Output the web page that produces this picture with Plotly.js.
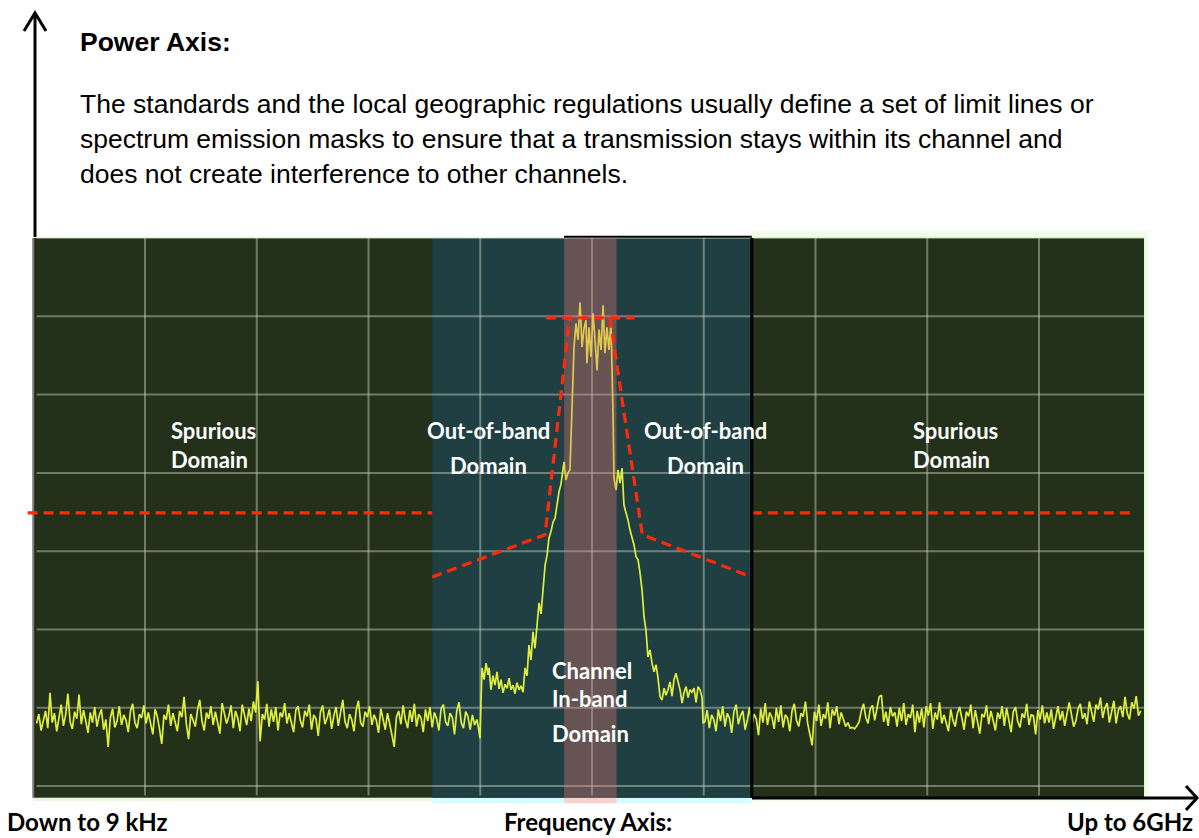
<!DOCTYPE html>
<html>
<head>
<meta charset="utf-8">
<script src="https://cdn.plot.ly/plotly-3.0.1.min.js"></script>
<style>html,body{margin:0;padding:0;background:#fff;}#chart{width:1199px;height:838px;}</style>
</head>
<body>
<div id="chart"></div>
<script>
// ---------------- DATA (frequency in screen divisions, level in dB) ----------------
const noiseStep = 0.02;
const noiseLeftStart = 0.03;
const noiseLeftDb = [
-62.0,-60.8,-62.9,-61.5,-60.4,-62.6,-58.1,-61.9,-60.7,-63.0,
-61.2,-59.6,-62.3,-60.9,-58.2,-61.8,-62.7,-60.5,-61.4,-58.3,
-62.1,-60.3,-61.7,-63.2,-60.6,-61.9,-59.9,-62.4,-61.0,-60.2,
-62.8,-61.5,-65.0,-61.3,-60.1,-62.5,-61.7,-59.8,-62.2,-60.9,
-61.6,-63.1,-60.4,-59.5,-61.9,-62.6,-60.8,-61.3,-59.7,-62.0,
-60.6,-61.8,-63.4,-60.2,-61.1,-62.7,-64.6,-60.9,-61.5,-59.6,
-62.3,-60.7,-61.9,-63.0,-60.4,-61.2,-58.6,-62.1,-64.0,-60.8,
-61.6,-62.4,-60.3,-59.0,-61.7,-62.9,-60.6,-61.4,-59.8,-62.2,
-60.5,-61.9,-63.3,-59.4,-60.8,-62.0,-61.1,-59.7,-62.6,-60.4,
-61.3,-63.0,-59.6,-60.9,-62.2,-60.1,-61.7,-59.2,-60.6,-56.6,
-64.3,-60.8,-61.5,-59.5,-62.4,-60.2,-61.8,-59.9,-62.9,-60.6,
-61.2,-59.4,-62.0,-60.7,-61.9,-63.1,-60.3,-59.8,-61.6,-62.5,
-60.4,-61.1,-59.6,-62.8,-60.9,-61.4,-63.6,-60.5,-59.7,-62.1,
-61.3,-60.2,-62.7,-61.0,-59.9,-62.3,-60.6,-59.0,-61.8,-62.6,
-60.8,-61.5,-63.0,-60.3,-59.1,-61.9,-62.4,-60.5,-61.2,-59.8,
-62.2,-60.9,-61.6,-63.2,-60.1,-61.4,-62.8,-60.7,-61.9,-63.5,
-65.0,-61.2,-60.4,-62.1,-59.7,-61.5,-62.6,-60.3,-61.8,-59.5,
-62.4,-60.8,-61.3,-63.1,-60.2,-61.7,-59.9,-62.5,-60.6,-61.4,
-62.9,-60.1,-59.6,-61.8,-62.3,-60.7,-61.2,-63.4,-60.4,-59.3,
-61.9,-62.6,-60.5,-61.1,-62.8,-60.9,-62.2,-61.5
];
const signalFreq = [
3.980,3.998,4.007,4.016,4.034,4.052,4.070,4.079,4.096,4.114,
4.132,4.150,4.168,4.186,4.204,4.222,4.240,4.258,4.275,4.293,
4.311,4.329,4.347,4.365,4.383,4.401,4.419,4.436,4.454,4.472,
4.490,4.508,4.526,4.544,4.562,4.580,4.598,4.615,4.633,4.651,
4.669,4.687,4.705,4.723,4.741,4.750,4.767,4.785,4.803,4.821,
4.839,4.857,4.875,4.893,4.911,4.929,4.946,4.955,4.973,4.991,
5.009,5.027,5.045,5.063,5.081,5.099,5.116,5.134,5.152,5.170,
5.179,5.188,5.197,5.215,5.233,5.251,5.269,5.286,5.304,5.322,
5.340,5.358,5.376,5.394,5.412,5.430,5.448,5.466,5.483,5.501,
5.519,5.537,5.555,5.573,5.591,5.609,5.627,5.645,5.662,5.680,
5.698,5.716,5.734,5.752,5.770,5.788,5.806,5.824,5.842,5.860,
5.877,5.895,5.913,5.931,5.949,5.967,5.985,5.994
];
const signalDb = [
-62.2,-63.9,-59.0,-54.9,-56.4,-54.3,-55.8,-54.9,-57.7,-55.9,
-57.1,-55.4,-57.6,-56.4,-58.1,-57.0,-57.5,-56.2,-57.7,-57.1,
-58.2,-56.8,-57.7,-57.2,-58.0,-54.9,-55.9,-52.0,-53.9,-50.3,
-52.4,-49.0,-46.6,-48.0,-44.6,-41.8,-40.5,-38.3,-37.5,-36.3,
-35.8,-34.1,-32.4,-31.4,-29.6,-28.6,-30.9,-30.0,-29.6,-22.4,
-13.9,-10.9,-13.0,-8.2,-13.9,-11.5,-10.5,-16.0,-11.4,-15.2,
-9.6,-13.0,-16.9,-11.7,-14.3,-8.6,-14.7,-11.4,-14.3,-10.7,
-15.2,-22.4,-30.7,-32.2,-29.6,-31.3,-29.4,-34.1,-35.1,-36.0,
-37.3,-38.2,-39.2,-40.7,-41.1,-42.8,-45.0,-48.4,-50.1,-53.5,
-52.6,-54.3,-55.4,-54.5,-56.2,-58.6,-59.0,-57.5,-58.4,-57.7,
-56.7,-58.5,-56.4,-55.6,-56.7,-57.7,-59.4,-58.0,-57.3,-58.7,
-57.7,-58.0,-57.5,-59.3,-57.3,-57.7,-58.7,-61.9
];
const noiseRightStart = 6.01;
const noiseRightDb = [
-61.8,-60.3,-62.6,-60.9,-61.5,-63.0,-60.2,-61.7,-59.8,-62.4,
-60.7,-61.3,-63.2,-60.5,-59.6,-62.1,-61.0,-60.4,-62.8,-61.6,
-59.9,-62.3,-60.8,-61.4,-63.5,-60.1,-61.9,-59.4,-62.2,-60.6,
-61.2,-62.7,-60.0,-61.8,-59.7,-62.5,-60.9,-61.3,-63.0,-60.4,
-59.5,-61.6,-62.4,-60.7,-61.1,-59.2,-62.0,-63.3,-64.8,-60.5,
-61.7,-59.6,-62.3,-60.8,-61.4,-59.3,-62.6,-60.2,-61.0,-59.8,
-62.1,-60.6,-61.5,-62.4,-61.9,-62.6,-62.5,-62.7,-62.3,-61.8,
-60.4,-59.5,-61.2,-62.0,-60.1,-59.7,-61.6,-60.3,-58.6,-58.4,
-61.8,-60.5,-62.3,-59.9,-61.1,-60.6,-62.4,-60.0,-61.7,-59.4,
-62.2,-60.8,-61.3,-59.6,-63.1,-60.4,-61.9,-60.1,-62.5,-59.8,
-61.0,-59.4,-62.7,-60.6,-61.5,-59.3,-62.0,-60.9,-61.8,-63.0,
-60.2,-61.6,-62.4,-60.7,-59.9,-61.3,-62.8,-60.5,-61.1,-59.6,
-62.6,-60.3,-61.7,-63.3,-60.8,-61.2,-59.7,-62.1,-60.4,-61.9,
-62.9,-60.6,-61.4,-59.8,-62.3,-60.0,-61.6,-63.1,-60.5,-59.9,
-61.8,-62.5,-60.7,-61.3,-59.5,-62.2,-60.9,-61.0,-63.4,-60.3,
-61.5,-59.7,-62.0,-60.6,-61.9,-60.2,-62.7,-61.1,-59.8,-61.6,
-60.4,-62.3,-61.0,-59.3,-60.8,-62.4,-61.7,-60.1,-59.5,-61.4,
-60.7,-62.1,-59.2,-60.5,-61.8,-59.6,-60.2,-58.7,-61.3,-60.0,
-59.4,-61.9,-60.6,-59.1,-62.0,-60.3,-59.8,-61.2,-58.6,-60.7,
-61.5,-59.3,-60.1,-58.5,-61.0,-60.4
];
// spectrum emission mask (limit lines); null separates segments
const maskFreq = [-0.05, 3.57, null, 3.57, 4.58, 4.80, null, 4.59, 5.38, null, 5.16, 5.45, 6.43, null, 6.43, 9.86];
const maskDb   = [-35.1, -35.1, null, -43.3, -37.9, -10.2, null, -10.2, -10.2, null, -10.2, -37.9, -43.3, null, -35.1, -35.1];
// domains (frequency bounds)
const screenFreq = [0, 9.94];
const screenDb = [-71.5, 0];
const outOfBand = [3.57, 6.43];
const inBand = [4.75, 5.22];
const gridFreq = [1, 2, 3, 4, 5, 6, 7, 8, 9];
const gridDb = [0, -10, -20, -30, -40, -50, -60, -70];

// ---------------- BUILD ----------------
const W = 1199, H = 838;
const px = v => v / W;
const py = v => 1 - v / H;

const fx = [], fy = [];
noiseLeftDb.forEach((v, i) => { fx.push(+(noiseLeftStart + i * noiseStep).toFixed(3)); fy.push(v); });
signalFreq.forEach((f, i) => { fx.push(f); fy.push(signalDb[i]); });
noiseRightDb.forEach((v, i) => { fx.push(+(noiseRightStart + i * noiseStep).toFixed(3)); fy.push(v); });

const haloBottom = -72.2;
const traces = [
  { x: fx, y: fy, type: 'scatter', mode: 'lines', line: { color: '#dff03c', width: 1.7 }, hoverinfo: 'skip', showlegend: false },
  { x: [inBand[0], inBand[1], inBand[1], inBand[0], inBand[0]],
    y: [haloBottom, haloBottom, screenDb[1], screenDb[1], haloBottom],
    type: 'scatter', mode: 'lines', fill: 'toself', fillcolor: 'rgba(233,122,115,0.35)',
    line: { width: 0 }, hoverinfo: 'skip', showlegend: false },
  { x: maskFreq, y: maskDb, type: 'scatter', mode: 'lines', connectgaps: false,
    line: { color: '#ff2a0a', width: 3.2, dash: '10px,6px' }, hoverinfo: 'skip', showlegend: false }
];

const shapes = [];
// light halos around the screen parts
shapes.push({ type: 'rect', layer: 'below', xref: 'x', yref: 'y', x0: outOfBand[1], x1: screenFreq[1] + 0.04, y0: -71.9, y1: 0.9, fillcolor: '#eefde4', line: { width: 0 } });
shapes.push({ type: 'rect', layer: 'below', xref: 'x', yref: 'y', x0: screenFreq[0], x1: outOfBand[0], y0: -71.9, y1: -71.5, fillcolor: '#eaf7e0', line: { width: 0 } });
shapes.push({ type: 'rect', layer: 'below', xref: 'x', yref: 'y', x0: outOfBand[0], x1: inBand[0], y0: haloBottom, y1: -71.5, fillcolor: '#d6fdfd', line: { width: 0 } });
shapes.push({ type: 'rect', layer: 'below', xref: 'x', yref: 'y', x0: inBand[1], x1: outOfBand[1], y0: haloBottom, y1: -71.5, fillcolor: '#d6fdfd', line: { width: 0 } });
// screen background
shapes.push({ type: 'rect', layer: 'below', xref: 'x', yref: 'y', x0: screenFreq[0], x1: screenFreq[1], y0: screenDb[0], y1: screenDb[1], fillcolor: '#23301a', line: { width: 0 } });
// out-of-band domain
shapes.push({ type: 'rect', layer: 'below', xref: 'x', yref: 'y', x0: outOfBand[0], x1: outOfBand[1], y0: screenDb[0], y1: screenDb[1], fillcolor: '#1f3f43', line: { width: 0 } });
// grid
gridFreq.forEach(g => shapes.push({ type: 'line', layer: 'below', xref: 'x', yref: 'y', x0: g, x1: g, y0: -71.2, y1: screenDb[1], line: { color: 'rgba(205,215,195,0.45)', width: 2 } }));
gridDb.forEach(g => shapes.push({ type: 'line', layer: 'below', xref: 'x', yref: 'y', x0: 0.03, x1: screenFreq[1], y0: g, y1: g, line: { color: 'rgba(205,215,195,0.45)', width: 2 } }));
// left border of the screen
shapes.push({ type: 'line', layer: 'below', xref: 'x', yref: 'y', x0: screenFreq[0], x1: screenFreq[0], y0: screenDb[0], y1: screenDb[1], line: { color: '#7a7a7a', width: 2 } });
// black top edge over channel / right out-of-band
shapes.push({ type: 'line', layer: 'above', xref: 'x', yref: 'y', x0: inBand[0], x1: outOfBand[1], y0: 0.15, y1: 0.15, line: { color: '#000', width: 2 } });
// black boundary line of right spurious domain + frequency axis
shapes.push({ type: 'line', layer: 'above', xref: 'x', yref: 'y', x0: outOfBand[1], x1: outOfBand[1], y0: screenDb[0], y1: screenDb[1], line: { color: '#000', width: 3 } });
shapes.push({ type: 'line', layer: 'above', xref: 'paper', yref: 'paper', x0: px(752), x1: px(1196), y0: py(798), y1: py(798), line: { color: '#000', width: 3 } });
shapes.push({ type: 'path', layer: 'above', xref: 'paper', yref: 'paper',
  path: `M ${px(1186)},${py(786)} L ${px(1197)},${py(798)} L ${px(1186)},${py(810)}`, line: { color: '#000', width: 3 } });
// power axis arrow
shapes.push({ type: 'line', layer: 'above', xref: 'paper', yref: 'paper', x0: px(35), x1: px(35), y0: py(237), y1: py(14), line: { color: '#000', width: 3 } });
shapes.push({ type: 'path', layer: 'above', xref: 'paper', yref: 'paper',
  path: `M ${px(24)},${py(31)} L ${px(35)},${py(13)} L ${px(46)},${py(31)}`, line: { color: '#000', width: 3 } });

const ann = [];
function txt(text, x, y, opts) {
  ann.push(Object.assign({ text: text, x: px(x), y: py(y), xref: 'paper', yref: 'paper', showarrow: false,
    xanchor: 'left', yanchor: 'middle', font: { family: 'Liberation Sans, Arial, sans-serif', size: 26.5, color: '#000' } }, opts || {}));
}
txt('<b>Power Axis:</b>', 78, 42);
txt('The standards and the local geographic regulations usually define a set of limit lines or', 78, 104);
txt('spectrum emission masks to ensure that a transmission stays within its channel and', 78, 139);
txt('does not create interference to other channels.', 78, 174);

const lab = { family: 'Lato, sans-serif', size: 22, color: '#ffffff' };
txt('<b>Spurious</b>', 169, 431, { font: lab });
txt('<b>Domain</b>', 169, 460, { font: lab });
txt('<b>Out-of-band</b>', 488, 431, { font: lab, xanchor: 'center' });
txt('<b>Domain</b>', 488, 465, { font: lab, xanchor: 'center' });
txt('<b>Out-of-band</b>', 705, 431, { font: lab, xanchor: 'center' });
txt('<b>Domain</b>', 705, 465, { font: lab, xanchor: 'center' });
txt('<b>Spurious</b>', 911, 431, { font: lab });
txt('<b>Domain</b>', 911, 460, { font: lab });
txt('<b>Channel</b>', 550, 670, { font: lab });
txt('<b>In-band</b>', 550, 698, { font: lab });
txt('<b>Domain</b>', 550, 733, { font: lab });

const bot = { family: 'Lato, sans-serif', size: 24, color: '#000' };
txt('<b>Down to 9 kHz</b>', 6, 837, { font: bot, yanchor: 'bottom', borderpad: 0 });
txt('<b>Frequency Axis:</b>', 588, 837, { font: bot, xanchor: 'center', yanchor: 'bottom', borderpad: 0 });
txt('<b>Up to 6GHz</b>', 1194, 837, { font: bot, xanchor: 'right', yanchor: 'bottom', borderpad: 0 });

const layout = {
  width: W, height: H, margin: { l: 0, r: 0, t: 0, b: 0, pad: 0 },
  paper_bgcolor: '#ffffff', plot_bgcolor: 'rgba(0,0,0,0)', showlegend: false,
  xaxis: { range: [-0.2975, 10.4318], visible: false, fixedrange: true },
  yaxis: { range: [-76.63, 30.40], visible: false, fixedrange: true },
  shapes: shapes, annotations: ann
};
Plotly.newPlot('chart', traces, layout, { staticPlot: true, displayModeBar: false });
</script>
</body>
</html>
